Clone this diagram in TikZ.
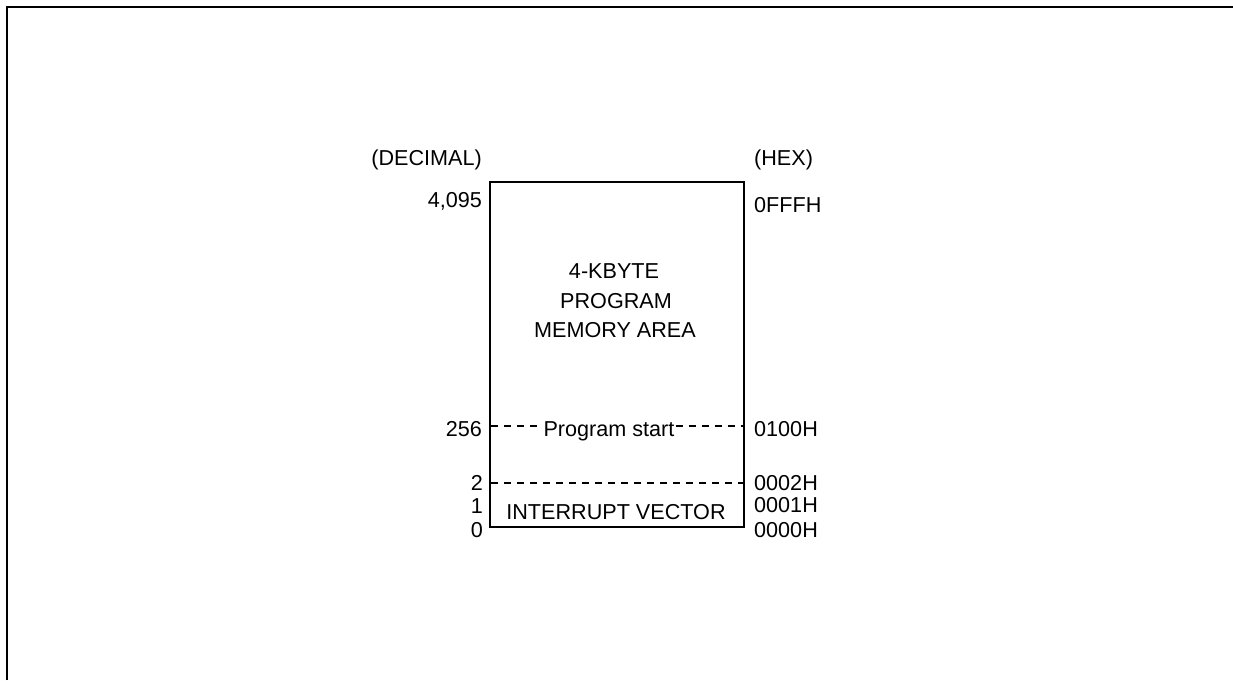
\documentclass[tikz,border=0pt]{standalone}
\usepackage{fontspec}
\setmainfont{Liberation Sans}
\begin{document}
\begin{tikzpicture}[x=1pt,y=-1pt,
  lbl/.style={inner sep=0pt, font=\fontsize{21.6}{24}\selectfont},
  frame/.style={line width=2pt},
  membox/.style={line width=2.4pt},
  dashline/.style={line width=1.4pt, dash pattern=on 7pt off 6pt}]
\useasboundingbox (0,0) rectangle (1233,680);
% outer frame
\coordinate (f1) at (7,680);
\coordinate (f2) at (7,7);
\coordinate (f3) at (1233,7);
\draw[frame] (f1) -- (f2) -- (f3);
% memory box
\coordinate (bl) at (490,527);
\coordinate (tr) at (744,182);
\draw[membox] (bl) rectangle (tr);
% dashed lines
\coordinate (d1l) at (491,426);
\coordinate (d1r) at (743,426);
\coordinate (d2l) at (491,483);
\coordinate (d2r) at (743,483);
\node[lbl, anchor=base] (ps) at (609,436) {Program start};
\draw[dashline] (d1l) -- ([xshift=-5pt]ps.west |- d1l);
\draw[dashline] ([xshift=1pt]ps.east |- d1r) -- (d1r);
\draw[dashline] (d2l) -- (d2r);
% headers
\node[lbl, anchor=base east] (dec) at (482,165) {(DECIMAL)};
\node[lbl, anchor=base west] (hex) at (754,165) {(HEX)};
% left labels
\node[lbl, anchor=base east] (l4095) at (482,207) {4,095};
\node[lbl, anchor=base east] (l256) at (482,436) {256};
\node[lbl, anchor=base east] (l2) at (483,490) {2};
\node[lbl, anchor=base east] (l1) at (483,513) {1};
\node[lbl, anchor=base east] (l0) at (483,537) {0};
% right labels
\node[lbl, anchor=base west] (rfff) at (754,212) {0FFFH};
\node[lbl, anchor=base west] (r100) at (754,436) {0100H};
\node[lbl, anchor=base west] (r2) at (754,490) {0002H};
\node[lbl, anchor=base west] (r1) at (754,512) {0001H};
\node[lbl, anchor=base west] (r0) at (754,537) {0000H};
% inside text
\node[lbl, anchor=base] (m1) at (614,278) {4-KBYTE};
\node[lbl, anchor=base] (m2) at (616,308) {PROGRAM};
\node[lbl, anchor=base] (m3) at (615,337) {MEMORY AREA};
\node[lbl, anchor=base] (iv) at (616,519) {INTERRUPT VECTOR};
\end{tikzpicture}
\end{document}
